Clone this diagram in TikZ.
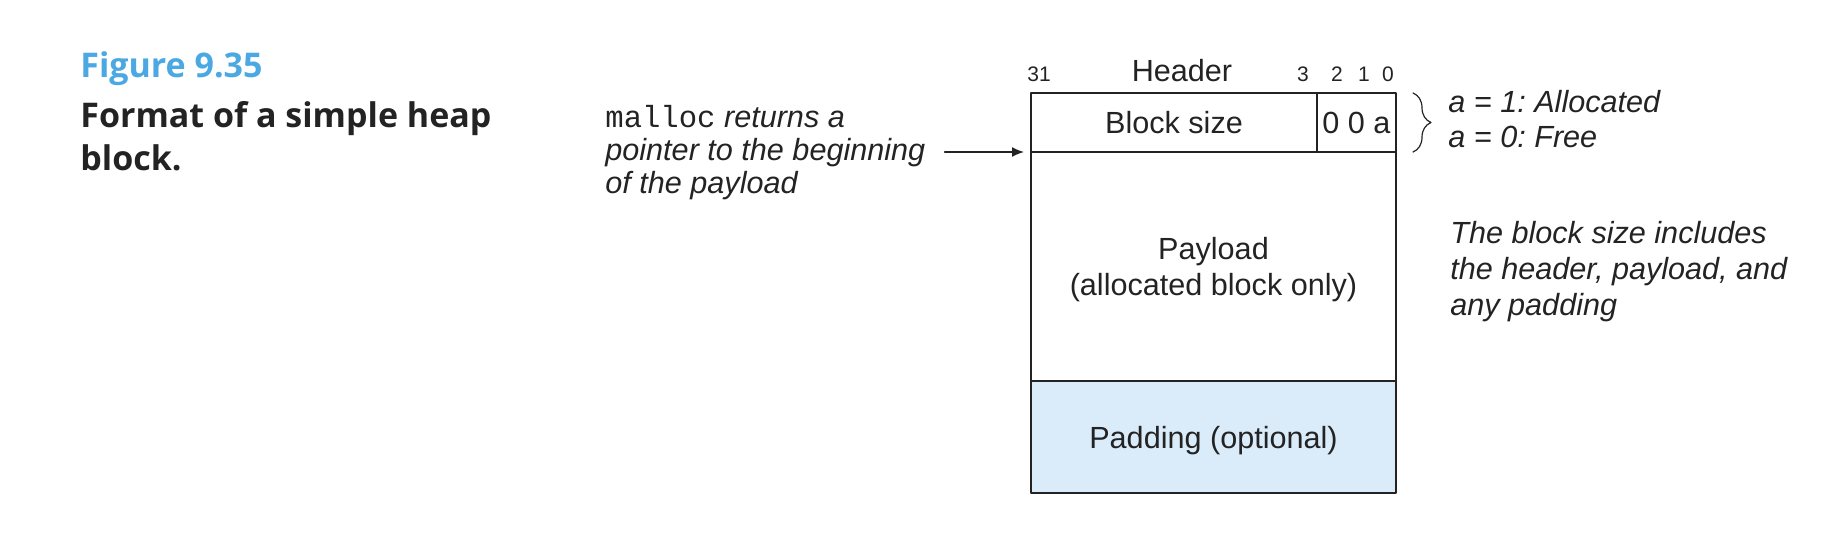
\documentclass[tikz,border=0pt]{standalone}
\usepackage{fontspec}
\setmainfont{Liberation Sans}
\setmonofont{Liberation Mono}
\newfontfamily\capfont{Open Sans}
\usetikzlibrary{arrows.meta,positioning,decorations.pathreplacing}

\definecolor{figblue}{RGB}{75,168,226}
\definecolor{padblue}{RGB}{218,236,250}
\definecolor{inkgray}{RGB}{35,35,35}

\tikzset{
  txt/.style={inner sep=0pt, text=inkgray, font=\fontsize{15.3}{16.8}\selectfont},
  note/.style={txt, align=left, font=\fontsize{15.3}{#1}\selectfont\itshape\frenchspacing},
  note/.default=16.8,
  bitno/.style={inner sep=0pt, text=inkgray, font=\fontsize{10.5}{12}\selectfont},
  cell/.style={draw=inkgray, line width=0.75pt, outer sep=0pt, inner sep=0pt,
    align=center, text=inkgray, font=\fontsize{15.3}{18}\selectfont},
}

\begin{document}
\begin{tikzpicture}[x=0.5pt,y=-0.5pt,line cap=round,line join=round,>={Latex[length=6pt,width=5pt]}]
    \useasboundingbox (0,0) rectangle (1822,552);

    % --- Caption ---
    \node[anchor=base west, inner sep=0pt, text=figblue,
      font=\capfont\bfseries\fontsize{17}{21.5}\selectfont] (fignum) at (80,77) {Figure 9.35};
    \node[anchor=base west, inner sep=0pt, align=left, text=inkgray,
      font=\capfont\bfseries\fontsize{17}{21.5}\selectfont] (figtitle) at (80,170) {Format of a simple heap\\block.};

    % --- Header word ---
    \node[cell, minimum width=143pt, minimum height=29.5pt, anchor=north west] (bsize) at (1031,93) {Block size};
    \node[cell, minimum width=39.5pt, minimum height=29.5pt, right=0pt of bsize] (flags) {0 0 a};

    % Payload and padding
    \node[cell, text depth=0pt, minimum width=182.5pt, minimum height=114.5pt, anchor=north west] (payload) at (bsize.south west) {Payload\\(allocated block only)};
    \node[cell, text depth=0pt, fill=padblue, minimum width=182.5pt, minimum height=56pt, below=0pt of payload] (padding) {Padding (optional)};

    % bit numbers
    \node[bitno, anchor=base] (b31) at (1039,81) {31};
    \node[txt, anchor=base] (hdrname) at (1182,81) {Header};
    \foreach \b/\x in {3/1303,2/1337,1/1364,0/1388}
        \node[bitno, anchor=base] (b\b) at (\x,81) {\b};

    % Allocated bit
    \draw[inkgray, line width=0.6pt, decorate, decoration={brace, amplitude=9pt}]
        ([xshift=8.5pt]flags.north east) -- ([xshift=8.5pt]flags.south east);
    \node[note=17.5, anchor=base west] (flagnote) at (1448,147.5) {a = 1: Allocated\\a = 0: Free};

    % Block size remark
    \node[note=18, anchor=base west] (sizenote) at (1450,315) {The block size includes\\the header, payload, and\\any padding};

    % malloc pointer
    \node[note=16.5, anchor=base west] (mallocnote) at (605,193.5) {{\upshape\ttfamily malloc} returns a\\pointer to the beginning\\of the payload};
    \path (mallocnote.east |- bsize.south west) ++(19,0) coordinate (ptr);
    \draw[->, inkgray, line width=0.75pt, shorten >=3.5pt] (ptr) -- (bsize.south west);

\end{tikzpicture}
\end{document}
